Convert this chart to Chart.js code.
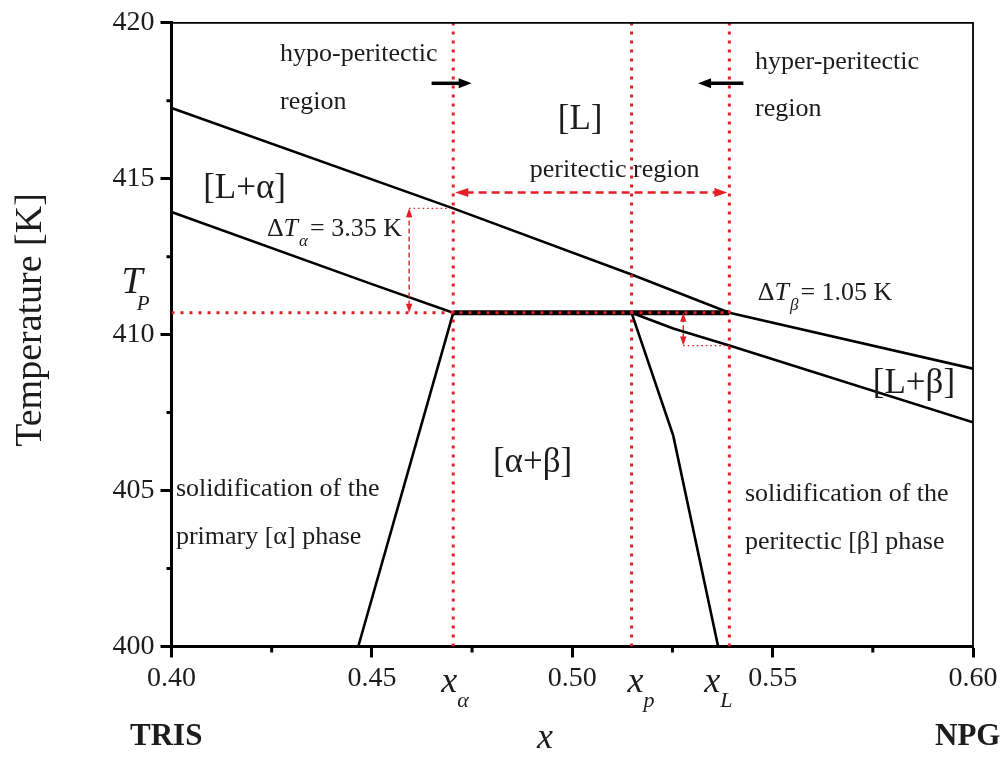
<!DOCTYPE html>
<html lang="en">
<head>
    <meta charset="UTF-8">
    <title>Peritectic phase diagram TRIS - NPG</title>
    <script src="https://cdn.jsdelivr.net/npm/chart.js@4.4.1/dist/chart.umd.min.js"></script>
    <style>
        html, body { margin: 0; padding: 0; background: #fff; }
        canvas { display: block; }
    </style>
</head>
<body>
    <canvas id="diagram" width="1003" height="758"></canvas>
    <script>
        // characteristic points of the peritectic
        var Tp = 410.70;
        var dTalpha = 3.35;
        var dTbeta = 1.05;
        var xAlpha = 0.4703;
        var xP = 0.5148;
        var xL = 0.5392;

        // liquidus (upper line) from TRIS side to NPG side
        var liquidusX = [0.40, 0.4703, 0.5148, 0.5392, 0.60];
        var liquidusT = [417.27, 414.05, 411.93, 410.70, 408.91];

        // solidus of alpha and its solvus
        var solidusAlphaX = [0.40, 0.45, 0.4703];
        var solidusAlphaT = [413.93, 411.62, 410.70];
        var solvusAlphaX = [0.4703, 0.4466];
        var solvusAlphaT = [410.70, 400];

        // solidus of beta and its solvus
        var solidusBetaX = [0.5148, 0.5252, 0.5392, 0.60];
        var solidusBetaT = [410.70, 410.20, 409.65, 407.19];
        var solvusBetaX = [0.5148, 0.5252, 0.5364];
        var solvusBetaT = [410.70, 406.76, 400];

        // axis ticks
        var xTicks = [0.40, 0.45, 0.50, 0.55, 0.60];
        var xMinor = [0.425, 0.475, 0.525, 0.575];
        var yTicks = [400, 405, 410, 415, 420];
        var yMinor = [402.5, 407.5, 412.5, 417.5];

        // where the delta-T arrows stand
        var dTalphaAt = 0.4593;
        var dTbetaAt = 0.5277;
        var regionArrowT = 414.56;
        var regionMarkT = 418.06;

        var SERIF = '"Liberation Serif", "Times New Roman", serif';
        var RED = 'rgb(228, 30, 38)';
        var INK = '#1c1c1c';

        function pts(xs, ts) {
            var out = [];
            for (var i = 0; i < xs.length; i++) out.push({x: xs[i], y: ts[i]});
            return out;
        }

        function line(data, color, width, dash) {
            return {
                data: data,
                showLine: true,
                borderColor: color,
                borderWidth: width,
                borderDash: dash || [],
                borderCapStyle: 'butt',
                pointRadius: 0,
                tension: 0,
                fill: false
            };
        }

        var dot = [3, 6];
        var datasets = [
            // red dotted guides, first in the list so they sit on top
            line(pts([0.40, xL], [Tp, Tp]), RED, 3, dot),
            line(pts([xAlpha, xAlpha], [400, 420]), RED, 3, dot),
            line(pts([xP, xP], [400, 420]), RED, 3, dot),
            line(pts([xL, xL], [400, 420]), RED, 3, dot),
            line(pts([dTalphaAt, xAlpha], [Tp + dTalpha, Tp + dTalpha]), RED, 1.2, [1.5, 3]),
            line(pts([dTbetaAt, xL], [Tp - dTbeta, Tp - dTbeta]), RED, 1.2, [1.5, 3]),
            // phase boundaries
            line(pts([xAlpha, xL], [Tp, Tp]), '#000', 5),
            line(pts(liquidusX, liquidusT), '#000', 2.6),
            line(pts(solidusAlphaX, solidusAlphaT), '#000', 2.6),
            line(pts(solvusAlphaX, solvusAlphaT), '#000', 2.6),
            line(pts(solidusBetaX, solidusBetaT), '#000', 2.6),
            line(pts(solvusBetaX, solvusBetaT), '#000', 2.6)
        ];

        // text placed at data coordinates: left edge, vertical middle
        var labels = [
            {t: 'hypo-peritectic', x: 0.4271, y: 419.00, size: 26},
            {t: 'region', x: 0.4271, y: 417.46, size: 26},
            {t: 'hyper-peritectic', x: 0.5456, y: 418.74, size: 26},
            {t: 'region', x: 0.5456, y: 417.24, size: 26},
            {t: '[L]', x: 0.4964, y: 416.89, size: 35},
            {t: 'peritectic region', x: 0.4894, y: 415.29, size: 26},
            {t: '[L+α]', x: 0.4079, y: 414.68, size: 35},
            {t: '[L+β]', x: 0.5750, y: 408.42, size: 35},
            {t: '[α+β]', x: 0.4802, y: 405.90, size: 35},
            {t: 'solidification of the', x: 0.4011, y: 405.04, size: 26},
            {t: 'primary [α] phase', x: 0.4011, y: 403.50, size: 26},
            {t: 'solidification of the', x: 0.5431, y: 404.90, size: 26},
            {t: 'peritectic [β] phase', x: 0.5431, y: 403.36, size: 26}
        ];

        function drawRuns(ctx, x, y, parts) {
            var cx = x;
            parts.forEach(function (p) {
                ctx.font = p.f;
                ctx.fillText(p.t, cx, y + (p.dy || 0));
                cx += ctx.measureText(p.t).width + (p.gap || 0);
            });
        }

        function arrow(ctx, x1, y1, x2, y2, o) {
            var ang = Math.atan2(y2 - y1, x2 - x1);
            var hl = o.head, hw = o.headW;
            var sx = x1, sy = y1, ex = x2, ey = y2;
            if (o.both) { sx += Math.cos(ang) * hl * 0.8; sy += Math.sin(ang) * hl * 0.8; }
            ex -= Math.cos(ang) * hl * 0.8; ey -= Math.sin(ang) * hl * 0.8;
            ctx.save();
            ctx.strokeStyle = o.color;
            ctx.fillStyle = o.color;
            ctx.lineWidth = o.width;
            ctx.setLineDash(o.dash || []);
            ctx.beginPath();
            ctx.moveTo(sx, sy);
            ctx.lineTo(ex, ey);
            ctx.stroke();
            ctx.setLineDash([]);
            function head(px, py, a) {
                ctx.beginPath();
                ctx.moveTo(px, py);
                ctx.lineTo(px - Math.cos(a) * hl - Math.sin(a) * hw, py - Math.sin(a) * hl + Math.cos(a) * hw);
                ctx.lineTo(px - Math.cos(a) * hl + Math.sin(a) * hw, py - Math.sin(a) * hl - Math.cos(a) * hw);
                ctx.closePath();
                ctx.fill();
            }
            head(x2, y2, ang);
            if (o.both) head(x1, y1, ang + Math.PI);
            ctx.restore();
        }

        var annotations = {
            id: 'annotations',
            afterDraw: function (chart) {
                var ctx = chart.ctx;
                var xs = chart.scales.x, ys = chart.scales.y;
                var X = function (v) { return xs.getPixelForValue(v); };
                var Y = function (v) { return ys.getPixelForValue(v); };
                var a = chart.chartArea;

                ctx.save();
                // thin frame on top and right
                ctx.strokeStyle = '#000';
                ctx.lineWidth = 1.8;
                ctx.beginPath();
                ctx.moveTo(a.left, a.top);
                ctx.lineTo(a.right, a.top);
                ctx.lineTo(a.right, a.bottom);
                ctx.stroke();

                // minor ticks
                ctx.lineWidth = 3;
                ctx.beginPath();
                yMinor.forEach(function (v) { ctx.moveTo(a.left - 5, Y(v)); ctx.lineTo(a.left, Y(v)); });
                xMinor.forEach(function (v) { ctx.moveTo(X(v), a.bottom); ctx.lineTo(X(v), a.bottom + 6); });
                ctx.stroke();

                // arrows
                arrow(ctx, X(0.4649), Y(regionMarkT), X(0.4749), Y(regionMarkT),
                    {color: '#000', width: 3.5, head: 13, headW: 5});
                arrow(ctx, X(0.5427), Y(regionMarkT), X(0.5314), Y(regionMarkT),
                    {color: '#000', width: 3.5, head: 13, headW: 5});
                arrow(ctx, X(xAlpha) + 2, Y(regionArrowT), X(xL) - 2, Y(regionArrowT),
                    {color: RED, width: 2.4, head: 13, headW: 4.5, both: true, dash: [8, 5]});
                arrow(ctx, X(dTalphaAt), Y(Tp), X(dTalphaAt), Y(Tp + dTalpha),
                    {color: RED, width: 1.4, head: 9, headW: 3.2, both: true, dash: [5, 3]});
                arrow(ctx, X(dTbetaAt), Y(Tp - dTbeta), X(dTbetaAt), Y(Tp),
                    {color: RED, width: 1.4, head: 9, headW: 3.2, both: true, dash: [5, 3]});

                // region labels
                ctx.fillStyle = INK;
                ctx.textBaseline = 'middle';
                ctx.textAlign = 'left';
                labels.forEach(function (l) {
                    ctx.font = l.size + 'px ' + SERIF;
                    ctx.fillText(l.t, X(l.x), Y(l.y));
                });

                // delta T labels
                drawRuns(ctx, X(0.4238), Y(413.37), [
                    {t: 'Δ', f: '26px ' + SERIF},
                    {t: 'T', f: 'italic 26px ' + SERIF, gap: 1},
                    {t: 'α', f: 'italic 17px ' + SERIF, dy: 12, gap: 2},
                    {t: '= ' + dTalpha.toFixed(2) + ' K', f: '26px ' + SERIF}
                ]);
                drawRuns(ctx, X(0.5463), Y(411.33), [
                    {t: 'Δ', f: '26px ' + SERIF},
                    {t: 'T', f: 'italic 26px ' + SERIF, gap: 1},
                    {t: 'β', f: 'italic 17px ' + SERIF, dy: 12, gap: 2},
                    {t: '= ' + dTbeta.toFixed(2) + ' K', f: '26px ' + SERIF}
                ]);

                // T_P next to the axis
                drawRuns(ctx, a.left - 50, Y(Tp) - 30, [
                    {t: 'T', f: 'italic 38px ' + SERIF, gap: -6},
                    {t: 'P', f: 'italic 21px ' + SERIF, dy: 22}
                ]);

                // composition marks under the axis
                var subY = a.bottom + 36;
                [[xAlpha, 'α', -12], [xP, 'p', -4], [xL, 'L', -25]].forEach(function (m) {
                    drawRuns(ctx, X(m[0]) + m[2], subY, [
                        {t: 'x', f: 'italic 36px ' + SERIF, gap: 0},
                        {t: m[1], f: 'italic 22px ' + SERIF, dy: 19}
                    ]);
                });

                // axis title and component names
                ctx.font = 'italic 36px ' + SERIF;
                ctx.fillText('x', 537, 739);
                ctx.font = 'bold 31px ' + SERIF;
                ctx.fillText('TRIS', 130, 737);
                ctx.fillText('NPG', 935, 737);

                ctx.translate(31, 320);
                ctx.rotate(-Math.PI / 2);
                ctx.textAlign = 'center';
                ctx.font = '38px ' + SERIF;
                ctx.fillText('Temperature [K]', 0, 0);
                ctx.restore();
            }
        };

        var tickFont = {family: SERIF, size: 28};

        new Chart(document.getElementById('diagram').getContext('2d'), {
            type: 'scatter',
            data: {datasets: datasets},
            options: {
                responsive: false,
                animation: false,
                events: [],
                layout: {padding: {left: 0, top: 19, right: 30, bottom: 0}},
                plugins: {legend: {display: false}, tooltip: {enabled: false}},
                scales: {
                    x: {
                        type: 'linear',
                        min: 0.40,
                        max: 0.60,
                        afterFit: function (s) { s.height = 111.5; },
                        afterBuildTicks: function (s) { s.ticks = xTicks.map(function (v) { return {value: v}; }); },
                        ticks: {
                            font: tickFont,
                            color: INK,
                            padding: 4,
                            maxRotation: 0,
                            autoSkip: false,
                            callback: function (v) { return v.toFixed(2); }
                        },
                        grid: {drawOnChartArea: false, tickLength: 11, tickWidth: 3, tickColor: '#000'},
                        border: {width: 3, color: '#000'}
                    },
                    y: {
                        type: 'linear',
                        min: 400,
                        max: 420,
                        afterFit: function (s) { s.width = 171.5; },
                        afterBuildTicks: function (s) { s.ticks = yTicks.map(function (v) { return {value: v}; }); },
                        ticks: {font: tickFont, color: INK, padding: 6, autoSkip: false},
                        grid: {drawOnChartArea: false, tickLength: 11, tickWidth: 3, tickColor: '#000'},
                        border: {width: 3, color: '#000'}
                    }
                }
            },
            plugins: [annotations]
        });
    </script>
</body>
</html>
